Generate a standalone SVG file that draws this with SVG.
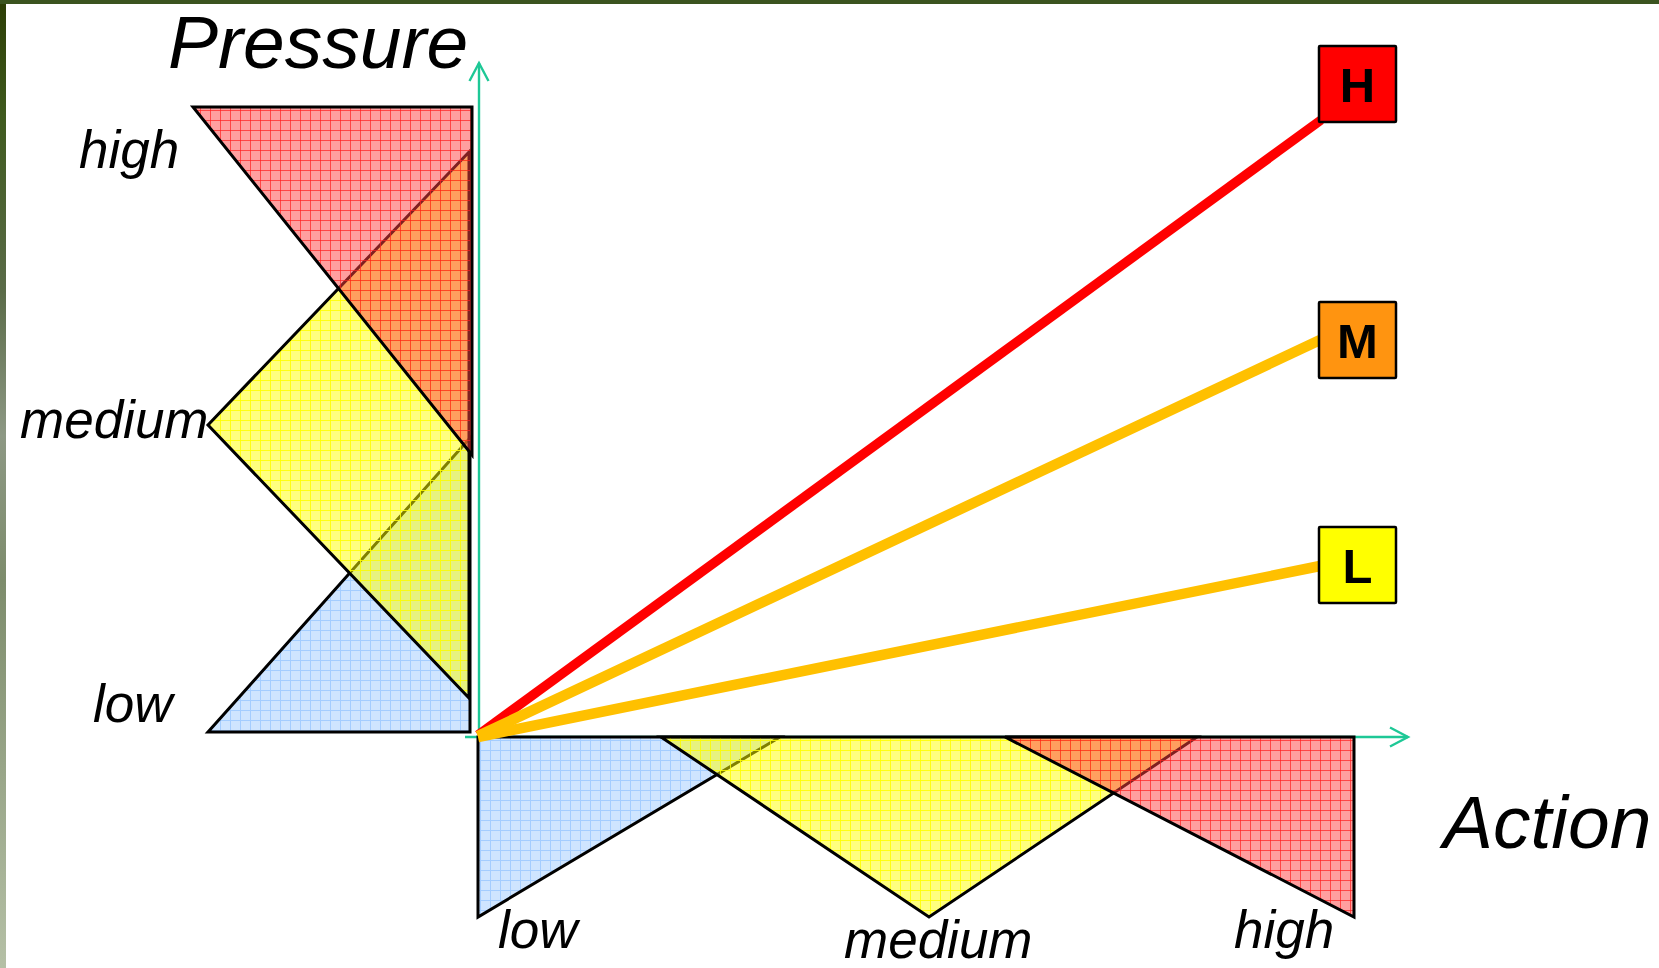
<svg xmlns="http://www.w3.org/2000/svg" width="1659" height="968" viewBox="0 0 1659 968">
  <defs>
    <linearGradient id="leftStrip" x1="0" y1="0" x2="0" y2="1">
      <stop offset="0" stop-color="#2c3d05"/>
      <stop offset="0.12" stop-color="#3f5a1e"/>
      <stop offset="0.3" stop-color="#5a6b48"/>
      <stop offset="0.45" stop-color="#8d9884"/>
      <stop offset="0.6" stop-color="#7d8c6c"/>
      <stop offset="1" stop-color="#b5c0a6"/>
    </linearGradient>
    <pattern id="patBlue" patternUnits="userSpaceOnUse" width="10" height="10">
      <rect width="10" height="10" fill="#cfe5ff"/>
      <path d="M0 0.5H10M0.5 0V10" stroke="#a4cdff" stroke-width="1"/>
    </pattern>
    <pattern id="patYellow" patternUnits="userSpaceOnUse" width="10" height="10">
      <rect width="10" height="10" fill="#ffff00" fill-opacity="0.5"/>
      <path d="M0 0.5H10M0.5 0V10" stroke="#ffff00" stroke-opacity="0.85" stroke-width="1"/>
    </pattern>
    <pattern id="patRed" patternUnits="userSpaceOnUse" width="10" height="10">
      <rect width="10" height="10" fill="#ff4040" fill-opacity="0.5"/>
      <path d="M0 0.5H10M0.5 0V10" stroke="#ff2020" stroke-opacity="0.7" stroke-width="1"/>
    </pattern>
    <marker id="openArrow" markerUnits="userSpaceOnUse" markerWidth="24" markerHeight="24" viewBox="-20 -12 24 24" refX="0" refY="0" orient="auto">
      <path d="M-18 -9.5L0 0L-18 9.5" fill="none" stroke="#1ec896" stroke-width="2.4"/>
    </marker>
  </defs>
  <style>
    .axis { fill: none; stroke: #1ec896; stroke-width: 2.4; }
    .tri { stroke: #000; stroke-width: 3; stroke-linejoin: miter; }
    .blue { fill: url(#patBlue); }
    .yellow { fill: url(#patYellow); }
    .red { fill: url(#patRed); }
    .lbl { font-family: "Liberation Sans", Arial, sans-serif; font-style: italic; fill: #000; }
    .big { font-size: 75px; }
    .mid { font-size: 53px; }
    .box { stroke: #000; stroke-width: 2.5; }
    .boxtxt { font-family: "Liberation Sans", Arial, sans-serif; font-weight: bold; font-size: 49px; text-anchor: middle; fill: #000; }
    .conn { fill: none; stroke-linecap: butt; }
  </style>

  <!-- background -->
  <rect x="0" y="0" width="1659" height="968" fill="#ffffff"/>
  <rect x="0" y="0" width="6" height="968" fill="url(#leftStrip)"/>
  <rect x="0" y="0" width="1659" height="4" fill="#3b5420"/>

  <!-- axes -->
  <g id="pressure-axis">
    <path class="axis" d="M479 737V63" marker-end="url(#openArrow)"/>
  </g>
  <g id="action-axis">
    <path class="axis" d="M465 737H1408" marker-end="url(#openArrow)"/>
  </g>

  <!-- pressure membership triangles -->
  <g id="pressure-low">
    <polygon class="tri blue" points="208,732 470,732 470,438"/>
  </g>
  <g id="pressure-medium">
    <polygon class="tri yellow" points="469,152 208,425 469,698"/>
  </g>
  <g id="pressure-high">
    <polygon class="tri red" points="193,107 472,107 472,455"/>
  </g>

  <!-- action membership triangles -->
  <g id="action-low">
    <polygon class="tri blue" points="478,737 780,737 478,917"/>
  </g>
  <g id="action-medium">
    <polygon class="tri yellow" points="661,737 1197,737 929,917"/>
  </g>
  <g id="action-high">
    <polygon class="tri red" points="1005,737 1354,737 1354,917"/>
  </g>

  <!-- connectors -->
  <g id="connectors">
    <line class="conn" x1="478" y1="735" x2="1321" y2="120" stroke="#ff0000" stroke-width="9.5"/>
    <line class="conn" x1="478" y1="736" x2="1320" y2="340" stroke="#ffc000" stroke-width="10.5"/>
    <line class="conn" x1="478" y1="737" x2="1320" y2="566" stroke="#ffc000" stroke-width="10.5"/>
  </g>

  <!-- result boxes -->
  <g id="box-H">
    <rect class="box" x="1319" y="46" width="77" height="76" rx="1" fill="#ff0000"/>
    <text class="boxtxt" x="1357.5" y="102">H</text>
  </g>
  <g id="box-M">
    <rect class="box" x="1319" y="302" width="77" height="76" rx="1" fill="#ff9410"/>
    <text class="boxtxt" x="1357.5" y="358">M</text>
  </g>
  <g id="box-L">
    <rect class="box" x="1319" y="527" width="77" height="76" rx="1" fill="#ffff00"/>
    <text class="boxtxt" x="1357.5" y="583">L</text>
  </g>

  <!-- labels -->
  <g id="labels">
    <text class="lbl big" x="168" y="68">Pressure</text>
    <text class="lbl big" x="1443" y="848">Action</text>
    <text class="lbl mid" x="79" y="168">high</text>
    <text class="lbl mid" x="20" y="438">medium</text>
    <text class="lbl mid" x="93" y="722">low</text>
    <text class="lbl mid" x="498" y="948">low</text>
    <text class="lbl mid" x="844" y="958">medium</text>
    <text class="lbl mid" x="1234" y="948">high</text>
  </g>
</svg>
